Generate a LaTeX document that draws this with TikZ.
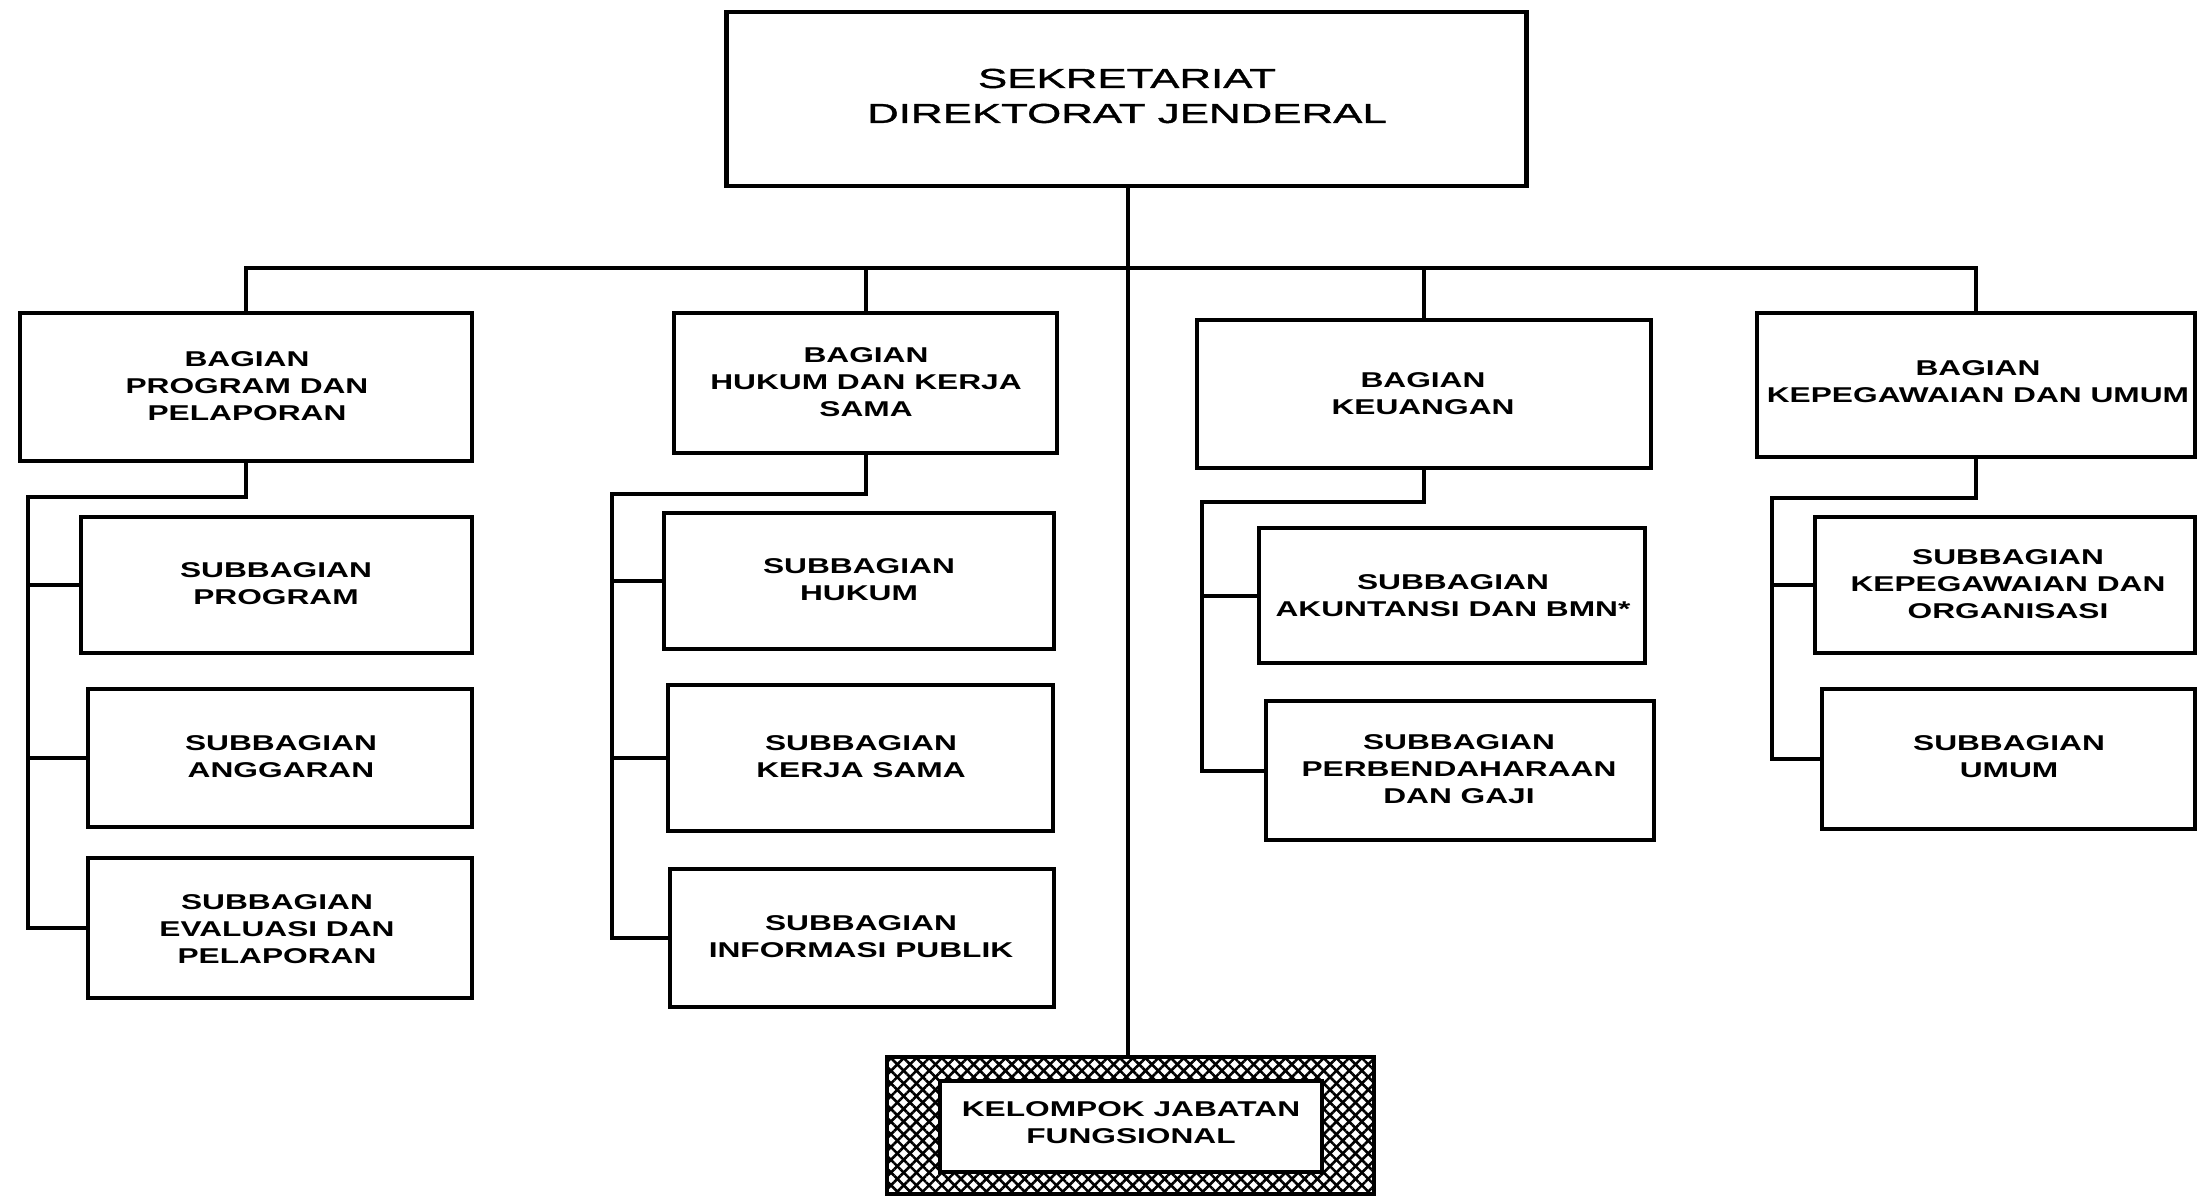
\documentclass[tikz,border=0pt]{standalone}
\usepackage{fontspec}
\usetikzlibrary{patterns.meta}
\newfontfamily\labfont{Liberation Sans Bold}[FakeStretch=1.48]
\newfontfamily\topfont{Liberation Sans}[FakeStretch=1.6, FakeBold=1.3]
\tikzset{
  box/.style={draw=black, line width=4.5pt, fill=white, inner sep=0pt, outer sep=0pt},
  lab/.style={align=center, inner sep=0pt, font=\labfont\fontsize{21.4}{27}\selectfont},
  toplab/.style={align=center, inner sep=0pt, font=\topfont\fontsize{27.4}{35}\selectfont},
  conn/.style={draw=black, line width=4pt, line cap=rect},
}
\begin{document}
\begin{tikzpicture}[x=1pt, y=-1pt]
\fill[white] (0,0) rectangle (2200,1198);
\useasboundingbox (0,0) rectangle (2200,1198);

% top box
\node[box, minimum width=800pt, minimum height=174pt] (top) at (1126.5,99) {};
\node[toplab] (ttop) at (1127,96) {SEKRETARIAT\\DIREKTORAT JENDERAL};

% bagian boxes
\node[box, minimum width=452pt, minimum height=148pt] (b1) at (246,387) {};
\node[lab] (tb1) at (247,386) {BAGIAN\\PROGRAM DAN\\PELAPORAN};
\node[box, minimum width=383pt, minimum height=140pt] (b2) at (865.5,383) {};
\node[lab] (tb2) at (866,382) {BAGIAN\\HUKUM DAN KERJA\\SAMA};
\node[box, minimum width=454pt, minimum height=148pt] (b3) at (1424,394) {};
\node[lab] (tb3) at (1423,394) {BAGIAN\\KEUANGAN};
\node[box, minimum width=438pt, minimum height=144pt] (b4) at (1976,385) {};
\node[lab] (tb4) at (1978,382) {BAGIAN\\KEPEGAWAIAN DAN UMUM};

% subbagian column 1
\node[box, minimum width=391pt, minimum height=136pt] (s1a) at (276.5,585) {};
\node[lab] (ts1a) at (276,584) {SUBBAGIAN\\PROGRAM};
\node[box, minimum width=384pt, minimum height=138pt] (s1b) at (280,758) {};
\node[lab] (ts1b) at (281,757) {SUBBAGIAN\\ANGGARAN};
\node[box, minimum width=384pt, minimum height=140pt] (s1c) at (280,928) {};
\node[lab] (ts1c) at (277,929) {SUBBAGIAN\\EVALUASI DAN\\PELAPORAN};

% subbagian column 2
\node[box, minimum width=390pt, minimum height=136pt] (s2a) at (859,581) {};
\node[lab] (ts2a) at (859,580) {SUBBAGIAN\\HUKUM};
\node[box, minimum width=385pt, minimum height=146pt] (s2b) at (860.5,758) {};
\node[lab] (ts2b) at (861,757) {SUBBAGIAN\\KERJA SAMA};
\node[box, minimum width=384pt, minimum height=138pt] (s2c) at (862,938) {};
\node[lab] (ts2c) at (861,937) {SUBBAGIAN\\INFORMASI PUBLIK};

% subbagian column 3
\node[box, minimum width=386pt, minimum height=135pt] (s3a) at (1452,595.5) {};
\node[lab] (ts3a) at (1453,596) {SUBBAGIAN\\AKUNTANSI DAN BMN*};
\node[box, minimum width=388pt, minimum height=139pt] (s3b) at (1460,770.5) {};
\node[lab] (ts3b) at (1459,769) {SUBBAGIAN\\PERBENDAHARAAN\\DAN GAJI};

% subbagian column 4
\node[box, minimum width=380pt, minimum height=136pt] (s4a) at (2005,585) {};
\node[lab] (ts4a) at (2008,584) {SUBBAGIAN\\KEPEGAWAIAN DAN\\ORGANISASI};
\node[box, minimum width=373pt, minimum height=140pt] (s4b) at (2008.5,759) {};
\node[lab] (ts4b) at (2009,757) {SUBBAGIAN\\UMUM};

% hatched functional group
\node[draw=black, line width=4.5pt, inner sep=0pt, outer sep=0pt,
      minimum width=487pt, minimum height=137pt, fill=white,
      postaction={pattern={Lines[angle=45,distance=9pt,line width=2.6pt]}},
      postaction={pattern={Lines[angle=-45,distance=9pt,line width=2.6pt]}}] (hatch) at (1130.5,1125.5) {};
\node[box, minimum width=382pt, minimum height=91pt] (inner) at (1131,1126.5) {};
\node[lab] (tin) at (1131,1123) {KELOMPOK JABATAN\\FUNGSIONAL};

% connectors
\coordinate (bus) at (1128,268);
\coordinate (v1) at (28,497);
\coordinate (v2) at (612,494);
\coordinate (v3) at (1202,502);
\coordinate (v4) at (1772,498);

\draw[conn] (top.south -| bus) -- (hatch.north -| bus);
\draw[conn] (b1.north) -- (b1.north |- bus) -- (b4.north |- bus) -- (b4.north);
\draw[conn] (b2.north) -- (b2.north |- bus);
\draw[conn] (b3.north) -- (b3.north |- bus);

\draw[conn] (b1.south) |- (v1) -- (v1 |- s1c.west) -- (s1c.west);
\draw[conn] (v1 |- s1a.west) -- (s1a.west);
\draw[conn] (v1 |- s1b.west) -- (s1b.west);

\draw[conn] (b2.south) |- (v2) -- (v2 |- s2c.west) -- (s2c.west);
\draw[conn] (v2 |- s2a.west) -- (s2a.west);
\draw[conn] (v2 |- s2b.west) -- (s2b.west);

\draw[conn] (b3.south) |- (v3) -- (v3 |- s3b.west) -- (s3b.west);
\draw[conn] (v3 |- s3a.west) -- (s3a.west);

\draw[conn] (b4.south) |- (v4) -- (v4 |- s4b.west) -- (s4b.west);
\draw[conn] (v4 |- s4a.west) -- (s4a.west);
\end{tikzpicture}
\end{document}
